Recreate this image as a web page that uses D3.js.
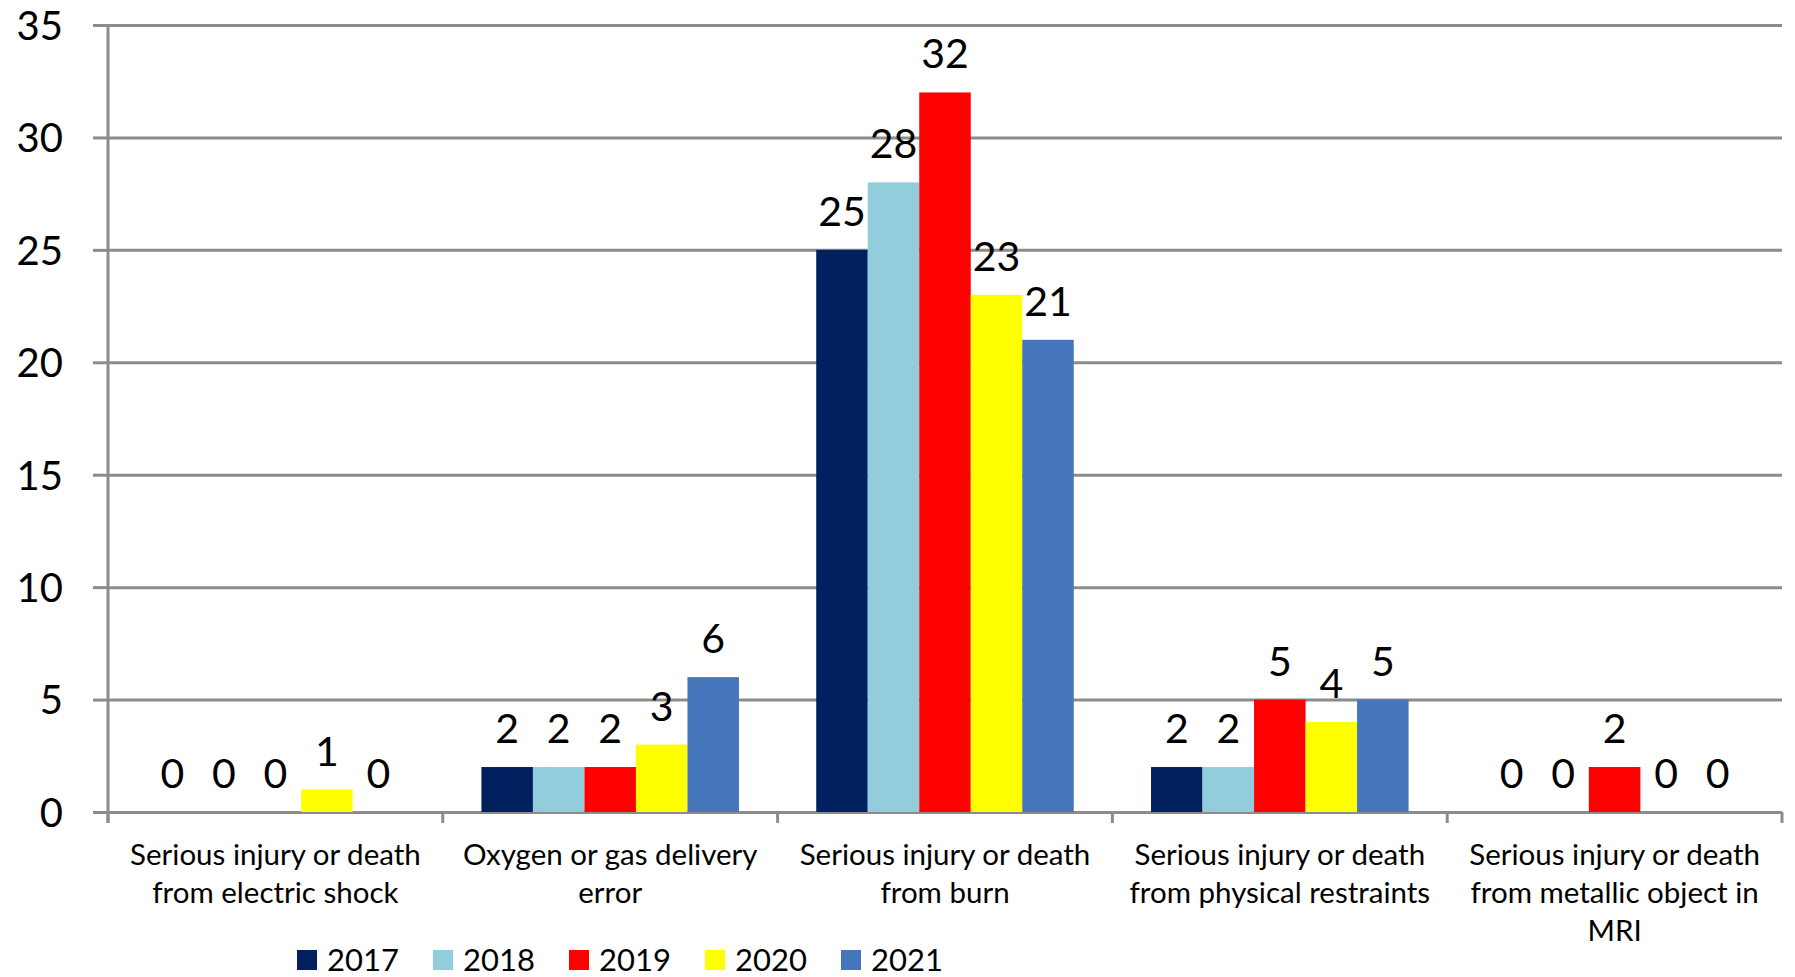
<!DOCTYPE html>
<html>
<head>
<meta charset="utf-8">
<script src="https://cdn.jsdelivr.net/npm/d3@7"></script>
<style>
  html, body { margin: 0; padding: 0; background: #fff; }
  svg text { font-family: Lato, "Open Sans", sans-serif; fill: #000; }
</style>
</head>
<body>
<div id="chart"></div>
<script>
const categories = [
    ["Serious injury or death", "from electric shock"],
    ["Oxygen or gas delivery", "error"],
    ["Serious injury or death", "from burn"],
    ["Serious injury or death", "from physical restraints"],
    ["Serious injury or death", "from metallic object in", "MRI"]
];
const years = ["2017", "2018", "2019", "2020", "2021"];
const v2017 = [0, 2, 25, 2, 0];
const v2018 = [0, 2, 28, 2, 0];
const v2019 = [0, 2, 32, 5, 2];
const v2020 = [1, 3, 23, 4, 0];
const v2021 = [0, 6, 21, 5, 0];
const yTicks = [0, 5, 10, 15, 20, 25, 30, 35];
const colors = ["#002060", "#92cddc", "#ff0000", "#ffff00", "#4677bd"];

const series = [v2017, v2018, v2019, v2020, v2021];
const data = categories.map((c, i) => ({
    key: i,
    lines: c,
    values: years.map((y, j) => ({ year: y, value: series[j][i] }))
}));

const margin = ({ top: 25, right: 13, bottom: 165, left: 108 })
const width = 1795 - margin.left - margin.right,
    height = 977 - margin.top - margin.bottom;

let svg = d3.select("#chart").append("svg")
    .attr("width", 1795)
    .attr("height", 977)
    .append("g")
    .attr("transform", "translate(" + margin.left + "," + margin.top + ")");

const gridColor = "#8c8c8c";

// gap width 150% like the spreadsheet default
const x0 = d3.scaleBand()
    .domain(data.map(d => d.key))
    .range([0, width])
    .paddingInner(1.5 / 6.5)
    .paddingOuter(0.75 / 6.5);

const x1 = d3.scaleBand()
    .domain(years)
    .range([0, x0.bandwidth()]);

const yScale = d3.scaleLinear()
    .domain([0, 35])
    .range([height, 0]);

// y axis + gridlines
let yAxis = d3.axisLeft(yScale)
    .tickValues(yTicks)
    .tickSize(15)
    .tickPadding(30)
    .tickFormat(d3.format("d"));

svg.append("g")
    .attr("class", "axis y-axis")
    .call(yAxis)
    .call(g => g.select(".domain").remove())
    .call(g => g.selectAll(".tick line")
        .attr("stroke", gridColor)
        .attr("stroke-width", 3))
    .call(g => g.selectAll(".tick text")
        .attr("font-size", 40)
        .attr("dy", "0.36em"))
    .selectAll(".tick line")
    .clone()
    .attr("x1", 0)
    .attr("x2", width);

svg.append("line")
    .attr("x1", 0).attr("x2", 0)
    .attr("y1", 0).attr("y2", height + 11)
    .attr("stroke", gridColor)
    .attr("stroke-width", 3);

// category boundary ticks
const step = x0.step();
const bounds = d3.range(categories.length + 1);
svg.append("g")
    .selectAll("line")
    .data(bounds)
    .join("line")
    .attr("x1", d => d * step)
    .attr("x2", d => d * step)
    .attr("y1", height)
    .attr("y2", height + 11)
    .attr("stroke", gridColor)
    .attr("stroke-width", 3);

// category labels
svg.append("g")
    .selectAll("text")
    .data(data)
    .join("text")
    .attr("text-anchor", "middle")
    .attr("font-size", 29.5)
    .attr("fill", "#000")
    .attr("transform", d => `translate(${x0(d.key) + x0.bandwidth() / 2},${height + 53})`)
    .each(function (d) {
        d3.select(this).selectAll("tspan")
            .data(d.lines)
            .join("tspan")
            .attr("x", 0)
            .attr("y", (l, i) => i * 38)
            .text(l => l);
    });

// bars
const groups = svg.append("g")
    .selectAll("g")
    .data(data)
    .join("g")
    .attr("transform", d => `translate(${x0(d.key)},0)`);

groups.selectAll("rect")
    .data(d => d.values)
    .join("rect")
    .attr("x", d => x1(d.year))
    .attr("y", d => yScale(d.value))
    .attr("width", x1.bandwidth())
    .attr("height", d => height - yScale(d.value))
    .attr("fill", (d, i) => colors[i]);

groups.selectAll("text")
    .data(d => d.values)
    .join("text")
    .attr("x", d => x1(d.year) + x1.bandwidth() / 2)
    .attr("y", d => yScale(d.value) - 24)
    .attr("text-anchor", "middle")
    .attr("font-size", 41)
    .text(d => d.value);

// legend
const legend = svg.append("g")
    .attr("transform", `translate(${297 - margin.left},${950 - margin.top})`)
    .selectAll("g")
    .data(years)
    .join("g")
    .attr("transform", (d, i) => `translate(${i * 136},0)`);

legend.append("rect")
    .attr("width", 20)
    .attr("height", 20)
    .attr("fill", (d, i) => colors[i]);

legend.append("text")
    .attr("x", 30)
    .attr("y", 10)
    .attr("dy", "0.36em")
    .attr("font-size", 31)
    .text(d => d);
</script>
</body>
</html>
